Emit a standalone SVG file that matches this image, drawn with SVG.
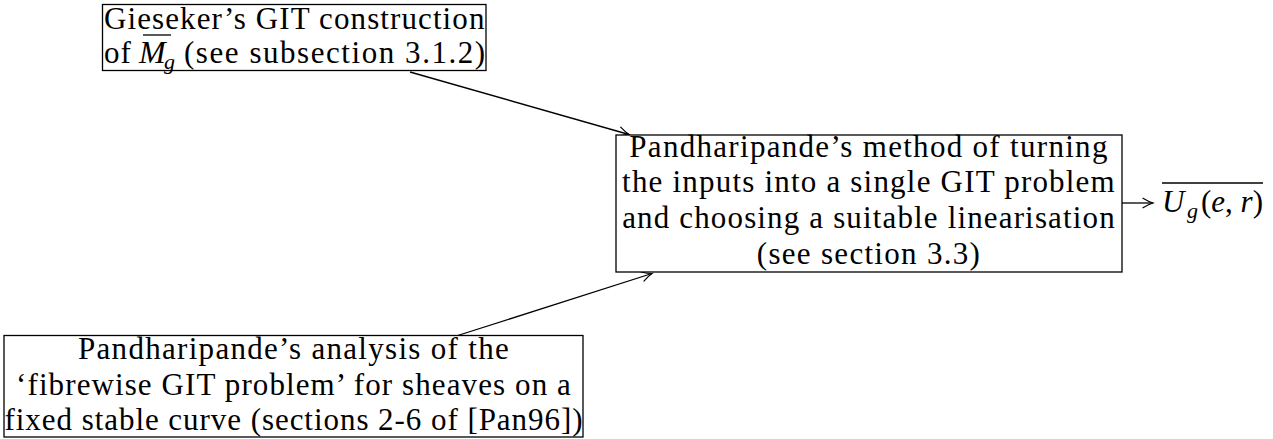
<svg xmlns="http://www.w3.org/2000/svg" width="1273" height="439" viewBox="0 0 1273 439">
  <style>
    .box { fill: #ffffff; stroke: #000000; stroke-width: 1.3; }
    .bar { stroke: #000000; stroke-width: 1.3; }
    .edge { fill: none; stroke: #000000; stroke-width: 1.3; marker-end: url(#tip); }
  </style>
  <defs>
    <marker id="tip" markerUnits="userSpaceOnUse" markerWidth="14" markerHeight="14" viewBox="-12 -7 14 14" refX="0" refY="0" orient="auto" overflow="visible">
      <path d="M-10,-4.8 Q-4,-1.2 0,0 Q-4,1.2 -10,4.8" fill="none" stroke="#000000" stroke-width="1.2" stroke-linecap="round"/>
    </marker>
  </defs>

  <!-- connectors -->
  <g id="edges">
    <line class="edge" x1="410" y1="72" x2="629" y2="134.5"/>
    <line class="edge" x1="453" y1="337" x2="652" y2="273.5"/>
    <line class="edge" x1="1122" y1="203" x2="1153" y2="203"/>
  </g>

  <!-- Gieseker input -->
  <g id="gieseker">
    <rect class="box" x="102.5" y="4.5" width="383.5" height="66"/>
    <text x="104" y="29" font-family="Liberation Serif" font-size="31" letter-spacing="1.1">Gieseker’s GIT construction</text>
    <text x="104" y="63" font-family="Liberation Serif" font-size="31" letter-spacing="1">of</text>
    <line class="bar" x1="143" y1="35" x2="171" y2="35"/>
    <text x="139" y="63" font-family="Liberation Serif" font-size="32" font-style="italic">M</text>
    <text x="164" y="69" font-family="Liberation Serif" font-size="22" font-style="italic">g</text>
    <text x="184" y="63" font-family="Liberation Serif" font-size="31" letter-spacing="1.55">(see subsection 3.1.2)</text>
  </g>

  <!-- combining step -->
  <g id="method">
    <rect class="box" x="616" y="135" width="506" height="137"/>
    <text x="869" y="157" font-family="Liberation Serif" font-size="31" letter-spacing="1.3" text-anchor="middle">Pandharipande’s method of turning</text>
    <text x="869" y="192" font-family="Liberation Serif" font-size="31" letter-spacing="1.2" text-anchor="middle">the inputs into a single GIT problem</text>
    <text x="869" y="228" font-family="Liberation Serif" font-size="31" letter-spacing="1.15" text-anchor="middle">and choosing a suitable linearisation</text>
    <text x="869" y="264" font-family="Liberation Serif" font-size="31" letter-spacing="1.3" text-anchor="middle">(see section 3.3)</text>
  </g>

  <!-- output space -->
  <g id="result">
    <line class="bar" x1="1162" y1="183" x2="1263" y2="183"/>
    <text x="1162" y="212" font-family="Liberation Serif" font-size="31" font-style="italic">U</text>
    <text x="1187" y="218" font-family="Liberation Serif" font-size="22" font-style="italic">g</text>
    <text x="1201" y="212" font-family="Liberation Serif" font-size="31">(<tspan font-style="italic">e</tspan>, <tspan font-style="italic">r</tspan>)</text>
  </g>

  <!-- fibrewise input -->
  <g id="fibrewise">
    <rect class="box" x="4" y="335.5" width="579" height="101.5"/>
    <text x="294" y="359" font-family="Liberation Serif" font-size="31" letter-spacing="1.3" text-anchor="middle">Pandharipande’s analysis of the</text>
    <text x="294" y="395" font-family="Liberation Serif" font-size="31" letter-spacing="1.1" text-anchor="middle">‘fibrewise GIT problem’ for sheaves on a</text>
    <text x="294" y="430" font-family="Liberation Serif" font-size="31" letter-spacing="0.95" text-anchor="middle">fixed stable curve (sections 2-6 of [Pan96])</text>
  </g>
</svg>
